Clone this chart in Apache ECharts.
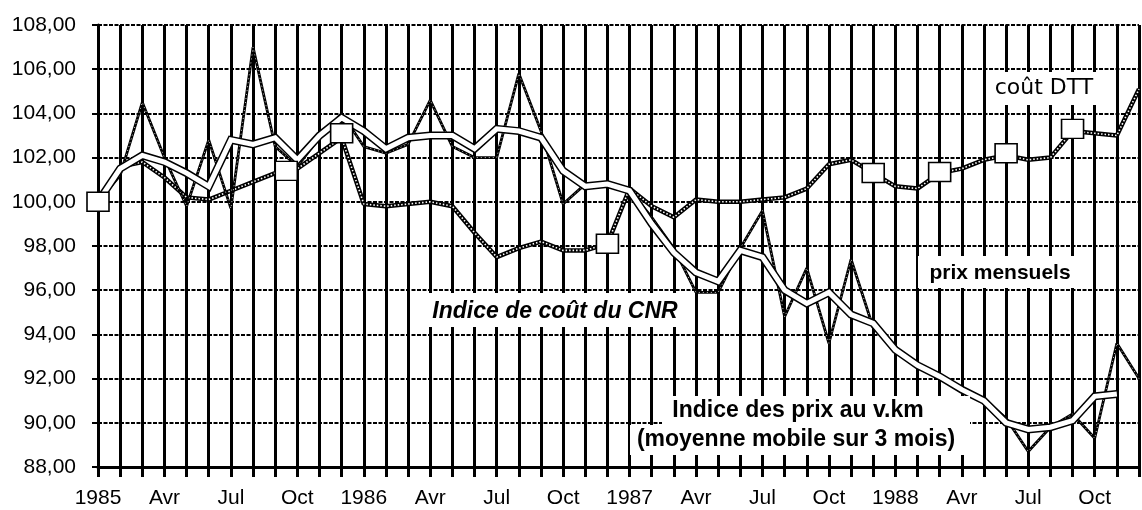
<!DOCTYPE html>
<html>
<head>
<meta charset="utf-8">
<script src="https://cdn.jsdelivr.net/npm/echarts@6/dist/echarts.min.js"></script>
<style>
html,body{margin:0;padding:0;background:#fff;}
#c{width:1142px;height:510px;}
</style>
</head>
<body>
<div id="c"></div>
<script>
// Month index 0 = Jan 1985 ... 47 = Dec 1988
const tickLabels = ['1985','Avr','Jul','Oct','1986','Avr','Jul','Oct','1987','Avr','Jul','Oct','1988','Avr','Jul','Oct'];

// Prix mensuels (monthly price index per v.km)
const prixMensuels = [
  100.0, 101.2, 104.5, 102.0, 99.8, 102.8, 99.7, 107.0, 102.5, 101.6, 102.9, 104.0,
  102.5, 102.2, 102.6, 104.6, 102.5, 102.0, 102.0, 105.8, 103.2, 99.9, 100.8, 100.7,
  100.5, 99.3, 97.9, 95.9, 95.9, 97.9, 99.6, 94.8, 97.0, 93.6, 97.4, 94.3,
  93.4, 92.5, 92.0, 91.6, 91.1, 90.2, 88.7, 89.8, 90.4, 89.3, 93.6, 92.0
];

// Indice des prix au v.km, moyenne mobile sur 3 mois
const moyenneMobile = [
  100.0, 101.5, 102.1, 101.8, 101.3, 100.7, 102.8, 102.6, 102.9, 101.9, 103.0, 103.8,
  103.2, 102.4, 102.9, 103.0, 103.0, 102.4, 103.3, 103.2, 102.9, 101.4, 100.7, 100.8,
  100.5, 99.0, 97.7, 96.8, 96.4, 97.8, 97.5, 96.0, 95.4, 95.9, 94.9, 94.5,
  93.3, 92.6, 92.1, 91.5, 91.0, 90.0, 89.7, 89.8, 90.1, 91.2, 91.3, null
];

// Indice de coût du CNR
const coutCNR = [
  100.0, 101.6, 101.8, 101.1, 100.2, 100.1, 100.5, 100.9, 101.3, 101.5, 102.2, 102.9,
  99.9, 99.8, 99.9, 100.0, 99.8, 98.6, 97.5, 97.9, 98.2, 97.8, 97.8, 98.1,
  100.6, 99.8, 99.3, 100.1, 100.0, 100.0, 100.1, 100.2, 100.6, 101.7, 101.9, 101.3,
  100.7, 100.6, 101.3, 101.5, 101.9, 102.1, 101.9, 102.0, 103.2, 103.1, 103.0, 105.1
];

// coût DTT (square markers)
const dttMonths = [0, 8.5, 11, 23, 35, 38, 41, 44];
const dttValues = [100.0, 101.4, 103.1, 98.1, 101.3, 101.35, 102.2, 103.3];

const pairs = arr => arr.map((v, i) => [i, v]);

const chart = echarts.init(document.getElementById('c'), null, {renderer: 'canvas'});
const font = '"Liberation Sans", Arial, Helvetica, sans-serif';

chart.setOption({
  animation: false,
  backgroundColor: '#fff',
  grid: {left: 98, top: 25, right: -4, bottom: 43, containLabel: false},
  xAxis: {
    type: 'value', min: 0, max: 47, interval: 1,
    axisLine: {show: true, lineStyle: {color: '#000', width: 3}},
    axisTick: {show: true, length: 10, lineStyle: {color: '#000', width: 3}},
    splitLine: {show: true, lineStyle: {color: '#000', width: 3}},
    axisLabel: {
      margin: 21, color: '#000', fontFamily: font, fontSize: 21,
      showMinLabel: true, showMaxLabel: true,
      formatter: v => (v % 3 === 0 && tickLabels[v / 3] !== undefined) ? tickLabels[v / 3] : ''
    }
  },
  yAxis: {
    type: 'value', min: 88, max: 108, interval: 2,
    axisLine: {show: true, lineStyle: {color: '#000', width: 3}},
    axisTick: {show: true, length: 6, lineStyle: {color: '#000', width: 2}},
    splitLine: {show: true, lineStyle: {color: '#000', width: 2, type: [4, 1.5]}},
    axisLabel: {
      margin: 22, color: '#000', fontFamily: font, fontSize: 21,
      formatter: v => v.toFixed(2).replace('.', ',')
    }
  },
  series: [
    {type: 'line', data: pairs(coutCNR), symbol: 'none', z: 3,
     lineStyle: {color: '#000', width: 4.5}},
    {type: 'line', data: pairs(coutCNR), symbol: 'none', z: 4,
     lineStyle: {color: '#fff', width: 1.6, type: [1.5, 2]}},
    {type: 'line', data: pairs(prixMensuels), symbol: 'none', z: 5,
     lineStyle: {color: '#000', width: 2.8}},
    {type: 'line', data: pairs(prixMensuels), symbol: 'none', z: 6,
     lineStyle: {color: '#fff', width: 0.8, type: [1, 3]}},
    {type: 'line', data: pairs(moyenneMobile), symbol: 'none', z: 7, connectNulls: false,
     lineStyle: {color: '#000', width: 8, join: 'miter'}},
    {type: 'line', data: pairs(moyenneMobile), symbol: 'none', z: 8, connectNulls: false,
     lineStyle: {color: '#fff', width: 5, join: 'miter'}},
    {type: 'scatter', data: dttMonths.map((m, i) => [m, dttValues[i]]), z: 9,
     symbol: 'rect', symbolSize: [22, 19],
     itemStyle: {color: '#fff', opacity: 1, borderColor: '#000', borderWidth: 1.5}}
  ],
  graphic: [
    {type: 'rect', z: 100, shape: {x: 420, y: 293, width: 268, height: 34}, style: {fill: '#fff'}},
    {type: 'text', z: 101, x: 555, y: 312, style: {text: 'Indice de coût du CNR', font: 'italic bold 23px ' + font, fill: '#000', textAlign: 'center', textVerticalAlign: 'middle'}},

    {type: 'rect', z: 100, shape: {x: 662, y: 396, width: 308, height: 29}, style: {fill: '#fff'}},
    {type: 'rect', z: 100, shape: {x: 630, y: 425, width: 340, height: 30}, style: {fill: '#fff'}},
    {type: 'text', z: 101, x: 798, y: 411, style: {text: 'Indice des prix au v.km', font: 'bold 23px ' + font, fill: '#000', textAlign: 'center', textVerticalAlign: 'middle'}},
    {type: 'text', z: 101, x: 796, y: 440, style: {text: '(moyenne mobile sur 3 mois)', font: 'bold 23px ' + font, fill: '#000', textAlign: 'center', textVerticalAlign: 'middle'}},

    {type: 'rect', z: 100, shape: {x: 918, y: 256, width: 160, height: 32}, style: {fill: '#fff'}},
    {type: 'text', z: 101, x: 1000, y: 273, style: {text: 'prix mensuels', font: 'bold 21px ' + font, fill: '#000', textAlign: 'center', textVerticalAlign: 'middle'}},

    {type: 'rect', z: 100, shape: {x: 988, y: 72, width: 112, height: 33}, style: {fill: '#fff'}},
    {type: 'text', z: 101, x: 1044, y: 88, style: {text: 'coût DTT', font: '22px "DejaVu Sans", sans-serif', fill: '#000', textAlign: 'center', textVerticalAlign: 'middle'}}
  ]
});
</script>
</body>
</html>
